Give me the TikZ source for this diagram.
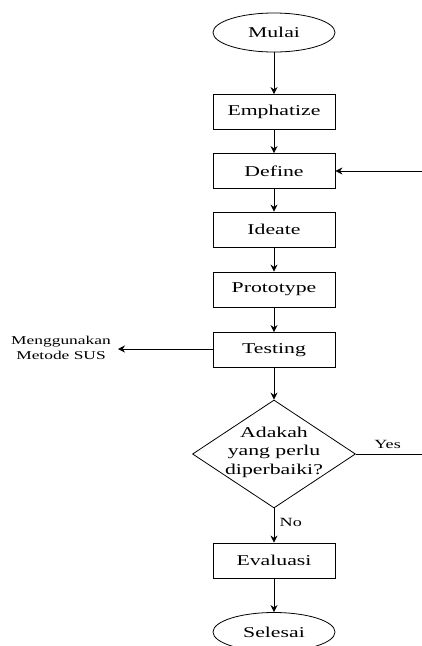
\documentclass[tikz,border=0pt]{standalone}
\usepackage{fontspec}
\setmainfont{Liberation Serif}
\newfontfamily\flowfont[FakeStretch=1.45]{Liberation Serif}
\usepackage{tikz}
\usetikzlibrary{arrows.meta,shapes.geometric}

\tikzset{
    boxstep/.style={draw, line width=0.8pt, rectangle, minimum width=122pt, minimum height=35pt, inner sep=0pt,
        font=\flowfont\fontsize{15}{18.5}\selectfont},
    termstep/.style={draw, line width=0.8pt, ellipse, minimum width=122pt, minimum height=39pt, inner sep=0pt,
        font=\flowfont\fontsize{15}{18.5}\selectfont},
    decide/.style={draw, line width=0.8pt, diamond, minimum width=163pt, minimum height=108pt, inner sep=0pt},
    flow/.style={line width=0.8pt, -{Stealth[length=7pt,width=7pt]}},
    smalltxt/.style={font=\flowfont\fontsize{12}{14.5}\selectfont},
    branchtxt/.style={font=\flowfont\fontsize{12.5}{15}\selectfont}
}

\begin{document}
\begin{tikzpicture}[x=1pt,y=-1pt]
    \useasboundingbox (0,0) rectangle (422,646);

    % Main steps
    \node[termstep] (mulai) at (274,32.5) {Mulai};
    \node[boxstep] (emph) at (274,112) {Emphatize};
    \node[boxstep] (define) at (274,171) {Define};
    \node[boxstep] (ideate) at (274,229.5) {Ideate};
    \node[boxstep] (proto) at (274,289.5) {Prototype};
    \node[boxstep] (testing) at (274,350) {Testing};

    % Decision
    \node[decide] (cek) at (274,454) {};
    \node[align=center, inner sep=0pt, font=\flowfont\fontsize{15}{18.5}\selectfont] (cektxt) at (274,452) {Adakah\\yang perlu\\diperbaiki?};

    % End
    \node[boxstep] (evaluasi) at (274,560.5) {Evaluasi};
    \node[termstep] (selesai) at (274,632) {Selesai};

    % Side label
    \node[smalltxt, align=center, inner sep=0pt] (sus) at (61,348) {Menggunakan\\Metode SUS};
    \coordinate (susend) at (118,349);
    \coordinate (loopin) at (422,171);
    \coordinate (yesend) at (422,454);

    % Arrows
    \draw[flow] (mulai) -- (emph);
    \draw[flow] (emph) -- (define);
    \draw[flow] (define) -- (ideate);
    \draw[flow] (ideate) -- (proto);
    \draw[flow] (proto) -- (testing);
    \draw[flow] (testing) -- (cek);
    \draw[flow] (cek) -- node[right, branchtxt, pos=0.4, xshift=2pt] {No} (evaluasi);
    \draw[flow] (evaluasi) -- (selesai);
    \draw[flow] (loopin) -- (define);
    \draw[flow] (testing.west |- susend) -- (susend);
    \draw[line width=0.8pt] (cek.east) -- node[above, branchtxt, pos=0.48, yshift=2pt] {Yes} (yesend);
\end{tikzpicture}
\end{document}
